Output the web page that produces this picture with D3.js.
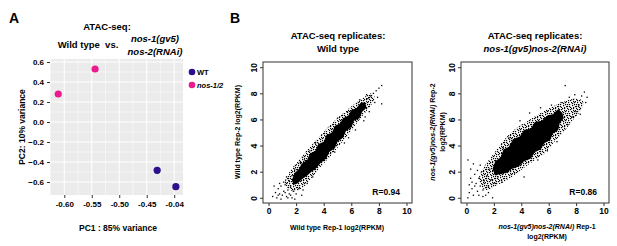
<!DOCTYPE html>
<html>
<head>
<meta charset="utf-8">
<script src="https://cdn.jsdelivr.net/npm/d3@7"></script>
<style>
  body { margin: 0; background: #fff; }
  text { font-family: "Liberation Sans", Arial, sans-serif; font-weight: bold; fill: #000; }
</style>
</head>
<body>
<svg id="fig" width="617" height="246"></svg>
<script>
// ---- Panel A: PCA ----
const pcaGroups = ['WT', 'nos-1/2'];
const pcaSampleGroup = ['WT', 'WT', 'nos-1/2', 'nos-1/2'];
const pcaPC1 = [-0.431, -0.397, -0.611, -0.544];
const pcaPC2 = [-0.483, -0.647, 0.28, 0.53];
const pcaXTicks = [-0.6, -0.55, -0.5, -0.45, -0.4];
const pcaXTickLabels = ['-0.60', '-0.55', '-0.50', '-0.45', '-0.04'];
const pcaYTicks = [0.6, 0.4, 0.2, 0, -0.2, -0.4, -0.6];

// ---- Panel B: replicate scatter (log2 RPKM) ----
const repTicks = [0, 2, 4, 6, 8, 10];
// dense core outline of each cloud
const wtCore = [[1.7, 1.4], [1.9, 1.9], [2.2, 2.2], [2.4, 2.6], [2.8, 2.9], [3.0, 3.4], [3.4, 3.6],
  [3.6, 4.1], [4.0, 4.3], [4.2, 4.8], [4.6, 5.0], [4.8, 5.5], [5.2, 5.7], [5.4, 6.1], [5.8, 6.3],
  [6.0, 6.7], [6.4, 6.9], [6.7, 7.3], [7.0, 7.3], [7.1, 6.9], [6.8, 6.6], [6.6, 6.1], [6.2, 5.9],
  [6.0, 5.4], [5.6, 5.1], [5.4, 4.6], [5.0, 4.3], [4.8, 3.8], [4.4, 3.5], [4.2, 3.0], [3.8, 2.7],
  [3.5, 2.3], [3.1, 2.0], [2.8, 1.7], [2.4, 1.4], [2.1, 1.1], [1.8, 1.0]];
// looser outer ring of the cloud
const wtFringe = [[1.2, 1.1], [1.6, 2.1], [2.3, 3.0], [3.0, 3.9], [3.7, 4.7], [4.4, 5.5], [5.2, 6.3],
  [6.0, 7.0], [6.8, 7.6], [7.5, 8.0], [7.7, 7.6], [7.3, 6.9], [6.6, 6.0], [5.9, 5.0], [5.2, 4.1],
  [4.5, 3.2], [3.8, 2.4], [3.1, 1.5], [2.5, 0.8], [1.8, 0.5]];
const wtPoints = [[0.3, 0.1], [0.5, 0.4], [0.6, 0.0], [0.7, 0.7], [0.8, 0.3], [0.9, 0.9], [1.0, 0.2],
  [1.1, 0.5], [1.2, 1.0], [1.3, 0.1], [1.4, 0.6], [1.5, 0.3], [1.6, 0.9], [1.7, 0.0], [1.8, 0.5],
  [1.9, -0.1], [1.5, 1.3], [1.1, 1.2], [0.8, 1.1], [1.3, 1.6], [1.7, 1.7], [2.0, 0.3], [2.2, 0.7],
  [2.5, 0.6], [0.4, 0.9], [0.9, -0.1], [1.6, 0.2], [2.1, 1.9], [1.9, 2.2], [2.6, 2.9], [2.3, 2.7],
  [3.0, 3.6], [3.4, 4.2], [2.8, 1.1], [3.2, 1.6], [1.2, 0.4], [0.7, 0.2], [1.4, 0.0], [2.4, 0.2],
  [7.2, 7.6], [7.4, 7.8], [7.6, 8.0], [7.8, 8.2], [8.0, 8.4], [8.2, 8.6], [7.7, 7.3], [8.2, 7.2],
  [7.3, 6.6], [7.0, 6.2], [6.9, 5.9], [6.3, 5.2], [5.8, 4.6], [5.5, 4.2], [4.8, 3.5], [6.6, 7.5],
  [5.7, 6.6], [5.0, 6.1], [7.1, 7.9], [7.9, 7.7]];

const nosCore = [[1.9, 2.2], [2.1, 2.8], [2.5, 3.1], [2.7, 3.7], [3.1, 3.9], [3.4, 4.5], [3.9, 4.7],
  [4.2, 5.2], [4.7, 5.3], [5.0, 5.8], [5.5, 5.9], [5.9, 6.3], [6.3, 6.4], [6.7, 6.8], [7.0, 6.5],
  [7.1, 6.1], [6.8, 5.7], [6.7, 5.2], [6.3, 4.9], [6.1, 4.4], [5.7, 4.2], [5.4, 3.7], [5.0, 3.5],
  [4.7, 3.0], [4.2, 2.8], [3.8, 2.4], [3.3, 2.2], [2.9, 1.9], [2.4, 1.8], [2.1, 1.7]];
const nosFringe = [[0.9, 1.4], [1.3, 2.4], [2.0, 3.4], [2.8, 4.5], [3.6, 5.3], [4.5, 5.9], [5.4, 6.5],
  [6.3, 7.0], [7.2, 7.4], [8.0, 7.6], [8.5, 7.4], [8.4, 6.8], [7.8, 6.0], [7.2, 5.2], [6.5, 4.4],
  [5.8, 3.5], [5.0, 2.9], [4.2, 2.3], [3.3, 1.6], [2.3, 1.0], [1.4, 0.6]];
const nosPoints = [[0.1, 0.0], [0.2, 0.4], [0.2, 1.0], [0.3, 1.5], [0.4, 0.7], [0.5, 0.2], [0.6, 1.8],
  [0.7, 1.1], [0.8, 0.5], [0.9, 1.5], [1.0, 0.9], [1.1, 2.0], [1.2, 0.6], [1.3, 1.3], [1.4, 0.2],
  [1.5, 1.7], [1.6, 0.9], [1.7, 2.2], [1.8, 1.4], [1.9, 0.0], [0.3, 2.2], [0.1, 2.9], [0.5, 2.6],
  [1.0, 2.5], [1.2, 0.1], [0.9, 0.2], [2.1, 1.1], [2.3, 1.6], [2.6, 1.2], [2.7, 3.8], [3.1, 4.6],
  [3.5, 1.9], [4.2, 1.6], [0.6, 0.9], [0.4, 1.2], [1.6, 0.4], [0.8, 2.1],
  [7.2, 8.6], [8.6, 8.1], [8.8, 7.7], [8.7, 7.3], [8.4, 7.8], [8.2, 7.1], [8.0, 6.6], [7.7, 6.2],
  [7.5, 7.7], [6.9, 7.3], [6.2, 7.1], [5.4, 6.9], [4.6, 6.5], [3.9, 5.9], [7.4, 5.6], [6.6, 4.3],
  [5.9, 3.6], [5.2, 2.9], [7.9, 7.9], [8.3, 6.4]];

const svg = d3.select('#fig');

// speckle texture used for the loose part of each cloud
const pat = svg.append('defs').append('pattern')
  .attr('id', 'speckle')
  .attr('width', 9).attr('height', 9)
  .attr('patternUnits', 'userSpaceOnUse');
[[0, 0], [3, 1], [6, 0], [8, 2], [1, 3], [4, 3], [7, 5], [2, 5], [5, 6], [0, 7], [3, 8], [6, 8],
  [8, 7], [4, 0], [1, 1], [5, 4], [2, 7], [7, 3], [0, 5], [6, 2]].forEach(([px, py]) => {
  pat.append('rect').attr('x', px).attr('y', py).attr('width', 1.2).attr('height', 1.2).attr('fill', '#000');
});

// ---------------- Panel A ----------------
function drawPca() {
  const x = d3.scaleLinear([-0.626, -0.384], [50, 183]);
  const y = d3.scaleLinear([-0.73, 0.63], [195, 59]);
  const color = d3.scaleOrdinal(pcaGroups, ['#2d0f8c', '#ea1b8d']);
  const g = svg.append('g');

  g.append('rect')
    .attr('x', x.range()[0]).attr('y', y.range()[1])
    .attr('width', x.range()[1] - x.range()[0])
    .attr('height', y.range()[0] - y.range()[1])
    .attr('fill', '#ebebeb');

  // minor grid
  const xMinor = pcaXTicks.slice(0, -1).map((d, i) => (d + pcaXTicks[i + 1]) / 2).concat([-0.625]);
  const yMinor = pcaYTicks.slice(0, -1).map((d, i) => (d + pcaYTicks[i + 1]) / 2);
  g.selectAll('.xminor').data(xMinor).enter().append('line')
    .attr('x1', (d) => x(d)).attr('x2', (d) => x(d))
    .attr('y1', y.range()[1]).attr('y2', y.range()[0])
    .attr('stroke', '#fff').attr('stroke-width', 0.5);
  g.selectAll('.yminor').data(yMinor).enter().append('line')
    .attr('y1', (d) => y(d)).attr('y2', (d) => y(d))
    .attr('x1', x.range()[0]).attr('x2', x.range()[1])
    .attr('stroke', '#fff').attr('stroke-width', 0.5);
  // major grid
  g.selectAll('.xmajor').data(pcaXTicks).enter().append('line')
    .attr('x1', (d) => x(d)).attr('x2', (d) => x(d))
    .attr('y1', y.range()[1]).attr('y2', y.range()[0])
    .attr('stroke', '#fff').attr('stroke-width', 1);
  g.selectAll('.ymajor').data(pcaYTicks).enter().append('line')
    .attr('y1', (d) => y(d)).attr('y2', (d) => y(d))
    .attr('x1', x.range()[0]).attr('x2', x.range()[1])
    .attr('stroke', '#fff').attr('stroke-width', 1);

  const xAxis = d3.axisBottom(x).tickValues(pcaXTicks)
    .tickFormat((d, i) => pcaXTickLabels[i]).tickSize(3).tickPadding(3);
  const yAxis = d3.axisLeft(y).tickValues(pcaYTicks)
    .tickFormat(d3.format('.1f')).tickSize(3).tickPadding(3);
  const ax = g.append('g').attr('transform', `translate(0,${y.range()[0]})`).call(xAxis);
  const ay = g.append('g').attr('transform', `translate(${x.range()[0]},0)`).call(yAxis);
  [ax, ay].forEach((a) => {
    a.select('.domain').remove();
    a.selectAll('line').attr('stroke', '#333');
    a.selectAll('text').attr('font-size', 8).style('font-family', '"Liberation Sans", Arial, sans-serif')
      .style('font-weight', 'bold').attr('fill', '#222');
  });

  g.selectAll('circle.pt').data(pcaPC1).enter().append('circle')
    .attr('cx', (d) => x(d))
    .attr('cy', (d, i) => y(pcaPC2[i]))
    .attr('r', 3.6)
    .attr('fill', (d, i) => color(pcaSampleGroup[i]));

  // legend
  const lg = g.selectAll('.leg').data(pcaGroups).enter().append('g')
    .attr('transform', (d, i) => `translate(192,${72 + i * 13})`);
  lg.append('circle').attr('r', 3.3).attr('fill', (d) => color(d));
  lg.append('text').attr('x', 5).attr('dy', '0.35em').attr('font-size', 7.5)
    .style('font-style', (d, i) => (i ? 'italic' : 'normal'))
    .text((d) => d);

  // titles
  g.append('text').attr('x', 9).attr('y', 23).attr('font-size', 14).text('A');
  g.append('text').attr('x', 107).attr('y', 30).attr('font-size', 9.5)
    .attr('text-anchor', 'middle').text('ATAC-seq:');
  g.append('text').attr('x', 88).attr('y', 48).attr('font-size', 9.5)
    .attr('text-anchor', 'middle').text('Wild type\u00a0\u00a0vs.');
  g.append('text').attr('x', 155).attr('y', 42).attr('font-size', 9.5)
    .attr('text-anchor', 'middle').style('font-style', 'italic').text('nos-1(gv5)');
  g.append('text').attr('x', 155).attr('y', 55).attr('font-size', 9.5)
    .attr('text-anchor', 'middle').style('font-style', 'italic').text('nos-2(RNAi)');

  g.append('text').attr('x', 118).attr('y', 231).attr('font-size', 8.5)
    .attr('text-anchor', 'middle').text('PC1 : 85% variance');
  g.append('text').attr('transform', 'translate(25,127) rotate(-90)').attr('font-size', 8.5)
    .attr('text-anchor', 'middle').text('PC2: 10% variance');
}

// ---------------- Panel B ----------------
function drawReplicates(left, right, core, fringe, pts, rLabel) {
  const x = d3.scaleLinear([-0.4, 10.4], [left, right]);
  const y = d3.scaleLinear([-0.4, 10.4], [203, 62]);
  const g = svg.append('g');
  const smooth = d3.line().x((d) => x(d[0])).y((d) => y(d[1])).curve(d3.curveCatmullRomClosed.alpha(0.5));
  const jagged = d3.line().x((d) => x(d[0])).y((d) => y(d[1])).curve(d3.curveLinearClosed);

  g.append('path').attr('d', smooth(fringe)).attr('fill', 'url(#speckle)');
  g.append('path').attr('d', jagged(core)).attr('fill', '#000');
  g.selectAll('rect.pt').data(pts).enter().append('rect')
    .attr('x', (d) => x(d[0]) - 0.6)
    .attr('y', (d) => y(d[1]) - 0.6)
    .attr('width', 1.3).attr('height', 1.3)
    .attr('fill', '#000');

  g.append('rect')
    .attr('x', left).attr('y', 62)
    .attr('width', right - left).attr('height', 141)
    .attr('fill', 'none').attr('stroke', '#333').attr('stroke-width', 1);

  const xAxis = d3.axisBottom(x).tickValues(repTicks).tickSize(3).tickPadding(2);
  const yAxis = d3.axisLeft(y).tickValues(repTicks).tickSize(3).tickPadding(2);
  const ax = g.append('g').attr('transform', 'translate(0,203)').call(xAxis);
  const ay = g.append('g').attr('transform', `translate(${left},0)`).call(yAxis);
  [ax, ay].forEach((a) => {
    a.select('.domain').remove();
    a.selectAll('line').attr('stroke', '#333');
    a.selectAll('text').attr('font-size', 8.5).style('font-family', '"Liberation Sans", Arial, sans-serif')
      .style('font-weight', 'bold').attr('fill', '#000');
  });
  // R-style: y tick labels run along the axis
  ay.selectAll('text')
    .attr('text-anchor', 'middle').attr('dy', null).attr('x', null)
    .attr('transform', 'translate(-6,0) rotate(-90)');

  g.append('text').attr('x', right - 12).attr('y', 195).attr('font-size', 8.5)
    .attr('text-anchor', 'end').text(rLabel);
  return g;
}

function drawPanelB() {
  const g1 = drawReplicates(263, 412, wtCore, wtFringe, wtPoints, 'R=0.94');
  const g2 = drawReplicates(461, 609, nosCore, nosFringe, nosPoints, 'R=0.86');

  svg.append('text').attr('x', 230).attr('y', 23).attr('font-size', 14).text('B');
  svg.append('text').attr('x', 338).attr('y', 39).attr('font-size', 9.5)
    .attr('text-anchor', 'middle').text('ATAC-seq replicates:');
  svg.append('text').attr('x', 338).attr('y', 52).attr('font-size', 9.5)
    .attr('text-anchor', 'middle').text('Wild type');
  svg.append('text').attr('x', 535).attr('y', 39).attr('font-size', 9.5)
    .attr('text-anchor', 'middle').text('ATAC-seq replicates:');
  svg.append('text').attr('x', 535).attr('y', 52).attr('font-size', 9.5)
    .attr('text-anchor', 'middle').style('font-style', 'italic').text('nos-1(gv5)nos-2(RNAi)');

  g1.append('text').attr('x', 337).attr('y', 230).attr('font-size', 7)
    .attr('text-anchor', 'middle').text('Wild type Rep-1 log2(RPKM)');
  g1.append('text').attr('transform', 'translate(240,132) rotate(-90)').attr('font-size', 7)
    .attr('text-anchor', 'middle').text('Wild type Rep-2 log2(RPKM)');

  const xl = g2.append('text').attr('x', 547).attr('y', 229).attr('font-size', 7)
    .attr('text-anchor', 'middle');
  xl.append('tspan').style('font-style', 'italic').text('nos-1(gv5)nos-2(RNAi)');
  xl.append('tspan').text(' Rep-1');
  g2.append('text').attr('x', 547).attr('y', 239).attr('font-size', 7)
    .attr('text-anchor', 'middle').text('log2(RPKM)');

  const yl = g2.append('text').attr('transform', 'translate(435,132) rotate(-90)').attr('font-size', 7)
    .attr('text-anchor', 'middle');
  yl.append('tspan').style('font-style', 'italic').text('nos-1(gv5)nos-2(RNAi)');
  yl.append('tspan').text(' Rep-2');
  g2.append('text').attr('transform', 'translate(445,132) rotate(-90)').attr('font-size', 7)
    .attr('text-anchor', 'middle').text('log2(RPKM)');
}

drawPca();
drawPanelB();
</script>
</body>
</html>
